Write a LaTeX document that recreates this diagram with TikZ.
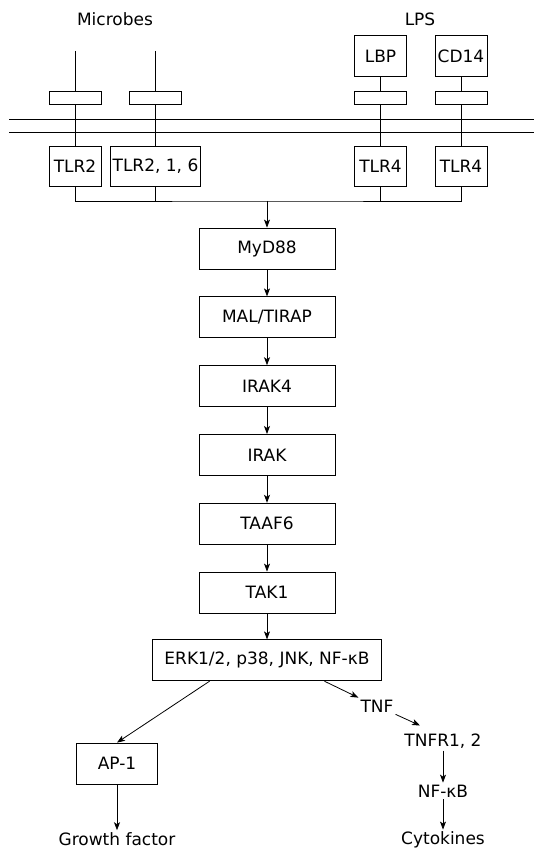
\documentclass[tikz,border=0pt]{standalone}
\usepackage{fontspec}
\setmainfont{DejaVu Sans}
\usetikzlibrary{arrows.meta, positioning, calc}
\tikzset{
	pathbox/.style={rectangle, draw, line width=0.8pt,
		minimum width=136pt, minimum height=41pt, inner sep=2pt},
	receptor/.style={rectangle, draw, line width=0.8pt,
		minimum width=52pt, minimum height=40pt, inner sep=2pt},
	cuff/.style={rectangle, draw, line width=0.8pt,
		minimum width=52pt, minimum height=13pt, inner sep=0pt},
	tag/.style={inner sep=2pt},
	myline/.style={line width=0.8pt},
	myarrow/.style={-{Stealth[length=8pt,width=6pt,inset=2pt]}, line width=0.8pt}
}

\begin{document}
\begin{tikzpicture}[x=1pt, y=-1pt, node distance=27pt,
	font=\fontsize{17}{20}\selectfont]
	\useasboundingbox (0,0) rectangle (534,850);
	
	%% ---- Stimuli ----
	\node[tag] (microbes) at (115,19) {Microbes};
	\node[tag] (lps)      at (420,19) {LPS};
	\coordinate (topA) at (75,51);
	\coordinate (topB) at (155.5,51);
	
	%% ---- Receptors (under the membrane) ----
	\node[receptor]                    (tlrA) at (75,166)    {TLR2};
	\node[receptor, minimum width=89pt] (tlrB) at (155.5,166) {TLR2, 1, 6};
	\node[receptor]                    (tlrC) at (380.5,166) {TLR4};
	\node[receptor]                    (tlrD) at (461,166)   {TLR4};
	
	%% ---- Membrane cuffs ----
	\node[cuff, above=41pt of tlrA] (cuffA) {};
	\node[cuff, above=41pt of tlrB] (cuffB) {};
	\node[cuff, above=41pt of tlrC] (cuffC) {};
	\node[cuff, above=41pt of tlrD] (cuffD) {};
	
	%% ---- LPS carriers ----
	\node[receptor, minimum height=41pt, above=14pt of cuffC] (lbp)  {LBP};
	\node[receptor, minimum height=41pt, above=14pt of cuffD] (cd14) {CD14};
	
	%% ---- Membrane ----
	\coordinate (memL1) at (9,119);  \coordinate (memR1) at (534,119);
	\coordinate (memL2) at (9,132);  \coordinate (memR2) at (534,132);
	\draw[myline] (memL1) -- (memR1);
	\draw[myline] (memL2) -- (memR2);
	
	%% ---- Stems through the membrane ----
	\foreach \u/\v in {topA/cuffA, cuffA/tlrA, topB/cuffB, cuffB/tlrB,
		lbp/cuffC, cuffC/tlrC, cd14/cuffD, cuffD/tlrD}{
		\draw[myline] (\u) -- (\v);
	}
	
	%% ---- Collector ----
	\coordinate (junc) at (267,201);
	\draw[myline] (tlrA.south) |- (junc) -| (tlrD.south);
	\draw[myline] (tlrB.south) -- (tlrB.south |- junc);
	\draw[myline] (tlrC.south) -- (tlrC.south |- junc);
	
	%% ---- Signalling cascade ----
	\node[pathbox] (myd) at (267,248.5) {MyD88};
	\node[pathbox, below=of myd]   (mal)   {MAL/TIRAP};
	\node[pathbox, below=of mal]   (irakf) {IRAK4};
	\node[pathbox, below=of irakf] (irak)  {IRAK};
	\node[pathbox, below=of irak]  (taaf)  {TAAF6};
	\node[pathbox, below=of taaf]  (tak)   {TAK1};
	\node[pathbox, minimum width=229pt, below=26pt of tak] (erk)
	{ERK1/2, p38, JNK, NF-κB};
	
	\foreach \a/\b in {junc/myd, myd/mal, mal/irakf, irakf/irak,
		irak/taaf, taaf/tak, tak/erk}{
		\draw[myarrow] (\a) -- (\b);
	}
	
	%% ---- Outputs ----
	\node[receptor, minimum width=81pt, minimum height=41pt] (ap1) at (117,763.5) {AP-1};
	\node[tag] (growth) at (117,839) {Growth factor};
	\node[tag] (tnf)    at (377,706) {TNF};
	\node[tag] (tnfr)   at (443,741) {TNFR1, 2};
	\node[tag] (nfkb)   at (443,791) {NF-κB};
	\node[tag] (cyto)   at (443,840) {Cytokines};
	
	\draw[myarrow] (erk.200) -- (ap1.north);
	\draw[myarrow] (ap1) -- (growth);
	\draw[myarrow] (erk.340) -- (tnf.north west);
	\draw[myarrow] (tnf.south east) -- ($(tnfr.north)+(-23,-6)$);
	\draw[myarrow] (tnfr) -- (nfkb);
	\draw[myarrow] (nfkb) -- (cyto);
	
\end{tikzpicture}
\end{document}
